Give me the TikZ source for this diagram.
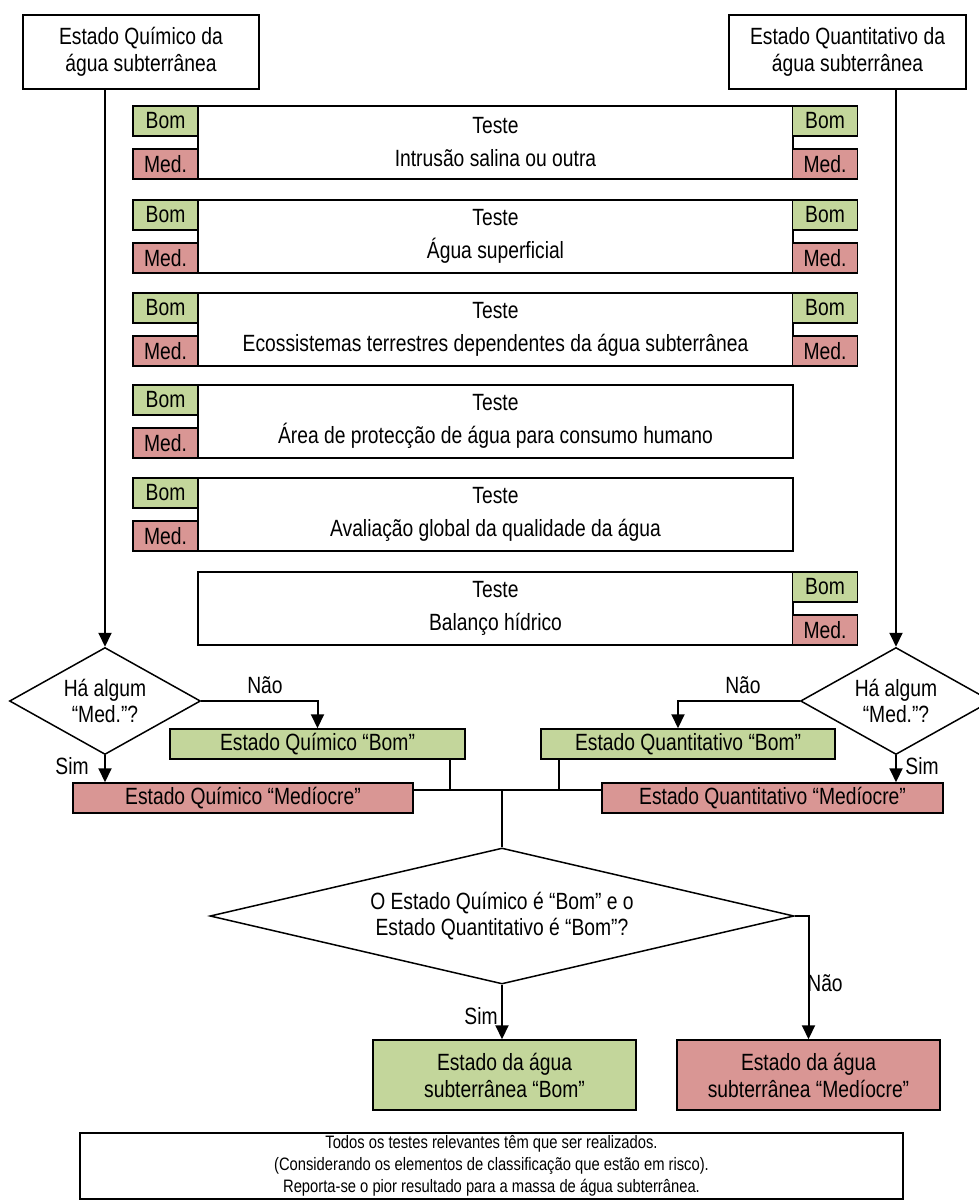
\documentclass[tikz,border=0pt]{standalone}
\usepackage{fontspec}
\setmainfont{Liberation Sans}[FakeStretch=0.82]
\usetikzlibrary{shapes.geometric,arrows.meta}
\definecolor{bomgreen}{HTML}{C3D69B}
\definecolor{medred}{HTML}{D99694}
\begin{document}
\begin{tikzpicture}[x=1pt,y=-1pt]
    \tikzset{
        box/.style={draw,fill=white,line width=1.5pt,rectangle,inner sep=0pt,align=center,font=\fontsize{23.5}{27}\selectfont},
        teste/.style={box,minimum width=595pt,minimum height=73pt,font=\fontsize{23.5}{33}\selectfont},
        bom/.style={box,fill=bomgreen,minimum width=65pt,minimum height=30pt},
        med/.style={box,fill=medred,minimum width=65pt,minimum height=30pt},
        pergunta/.style={draw,fill=white,line width=1.5pt,diamond,inner sep=0pt,align=center,font=\fontsize{23.5}{26}\selectfont},
        seta/.style={line width=2pt,-{Triangle[length=14pt,width=13pt]}},
        liga/.style={line width=2pt},
        rotulo/.style={font=\fontsize{23.5}{27}\selectfont}
    }
    \useasboundingbox (0,0) rectangle (978,1201);

    \node[box,minimum width=236pt,minimum height=74pt] (chem) at (141,52) {Estado Químico da\\água subterrânea};
    \node[box,minimum width=237pt,minimum height=74pt] (quant) at (847.5,52) {Estado Quantitativo da\\água subterrânea};

    \node[teste] (intrusao) at (495.5,142.5) {Teste\\Intrusão salina ou outra};
    \node[bom] (intrusaoLB) at (165.5,121) {Bom};
    \node[med] (intrusaoLM) at (165.5,164) {Med.};
    \node[bom] (intrusaoRB) at (825,121) {Bom};
    \node[med] (intrusaoRM) at (825,164) {Med.};

    \node[teste] (superficial) at (495.5,236.5) {Teste\\Água superficial};
    \node[bom] (superficialLB) at (165.5,215) {Bom};
    \node[med] (superficialLM) at (165.5,258) {Med.};
    \node[bom] (superficialRB) at (825,215) {Bom};
    \node[med] (superficialRM) at (825,258) {Med.};

    \node[teste] (ecossist) at (495.5,329.5) {Teste\\Ecossistemas terrestres dependentes da água subterrânea};
    \node[bom] (ecossistLB) at (165.5,308) {Bom};
    \node[med] (ecossistLM) at (165.5,351) {Med.};
    \node[bom] (ecossistRB) at (825,308) {Bom};
    \node[med] (ecossistRM) at (825,351) {Med.};

    \node[teste] (consumo) at (495.5,421.5) {Teste\\Área de protecção de água para consumo humano};
    \node[bom] (consumoLB) at (165.5,400) {Bom};
    \node[med] (consumoLM) at (165.5,443) {Med.};

    \node[teste] (global) at (495.5,514.5) {Teste\\Avaliação global da qualidade da água};
    \node[bom] (globalLB) at (165.5,493) {Bom};
    \node[med] (globalLM) at (165.5,536) {Med.};

    \node[teste] (balanco) at (495.5,608.5) {Teste\\Balanço hídrico};
    \node[bom] (balancoRB) at (825,587) {Bom};
    \node[med] (balancoRM) at (825,630) {Med.};

    \node[pergunta,aspect=1.78,minimum width=191pt,minimum height=107pt] (qchem) at (105,701) {Há algum\\“Med.”?};
    \node[pergunta,aspect=1.78,minimum width=191pt,minimum height=107pt] (qquant) at (896,701) {Há algum\\“Med.”?};

    \node[box,fill=bomgreen,minimum width=295pt,minimum height=30pt] (chemBom) at (317.5,744) {Estado Químico “Bom”};
    \node[box,fill=medred,minimum width=340pt,minimum height=30pt] (chemMed) at (243,798) {Estado Químico “Medíocre”};
    \node[box,fill=bomgreen,minimum width=294pt,minimum height=30pt] (quantBom) at (688,744) {Estado Quantitativo “Bom”};
    \node[box,fill=medred,minimum width=341pt,minimum height=30pt] (quantMed) at (772.5,798) {Estado Quantitativo “Medíocre”};

    \coordinate (bus) at (502,790);
    \node[pergunta,aspect=4.3,minimum width=584pt,minimum height=136pt] (qall) at (502,916) {O Estado Químico é “Bom” e o\\Estado Quantitativo é “Bom”?};

    \node[box,fill=bomgreen,minimum width=263pt,minimum height=70pt] (finalBom) at (504.5,1075) {Estado da água\\subterrânea “Bom”};
    \node[box,fill=medred,minimum width=263pt,minimum height=70pt] (finalMed) at (808.5,1075) {Estado da água\\subterrânea “Medíocre”};

    \node[box,minimum width=823pt,minimum height=66pt,font=\fontsize{18}{22}\selectfont] (nota) at (491.5,1166) {Todos os testes relevantes têm que ser realizados.\\(Considerando os elementos de classificação que estão em risco).\\Reporta-se o pior resultado para a massa de água subterrânea.};

    \draw[seta] (chem.south -| qchem.north) -- (qchem.north);
    \draw[seta] (quant.south -| qquant.north) -- (qquant.north);

    \draw[seta] (qchem.east) -- (chemBom.north |- qchem.east) -- (chemBom.north);
    \draw[seta] (qchem.south) -- (qchem.south |- chemMed.north);
    \draw[seta] (qquant.west) -- ([xshift=-10pt]quantBom.north |- qquant.west) -- ([xshift=-10pt]quantBom.north);
    \draw[seta] (qquant.south) -- (qquant.south |- quantMed.north);

    \node[rotulo] (naoL) at (265,685) {Não};
    \node[rotulo] (simL) at (72,766) {Sim};
    \node[rotulo] (naoR) at (743,685) {Não};
    \node[rotulo] (simR) at (922,766) {Sim};

    \draw[liga] (chemMed.east |- bus) -- (quantMed.west |- bus);
    \draw[liga] ([xshift=-16pt]chemBom.south east) -- ([xshift=-16pt]chemBom.south east |- bus);
    \draw[liga] ([xshift=19pt]quantBom.south west) -- ([xshift=19pt]quantBom.south west |- bus);
    \draw[liga] (bus) -- (qall.north);

    \draw[seta] (qall.south) -- (qall.south |- finalBom.north);
    \draw[seta] (qall.east) -- (finalMed.north |- qall.east) -- (finalMed.north);
    \node[rotulo] (simF) at (481,1016) {Sim};
    \node[rotulo] (naoF) at (825,983) {Não};
\end{tikzpicture}
\end{document}
